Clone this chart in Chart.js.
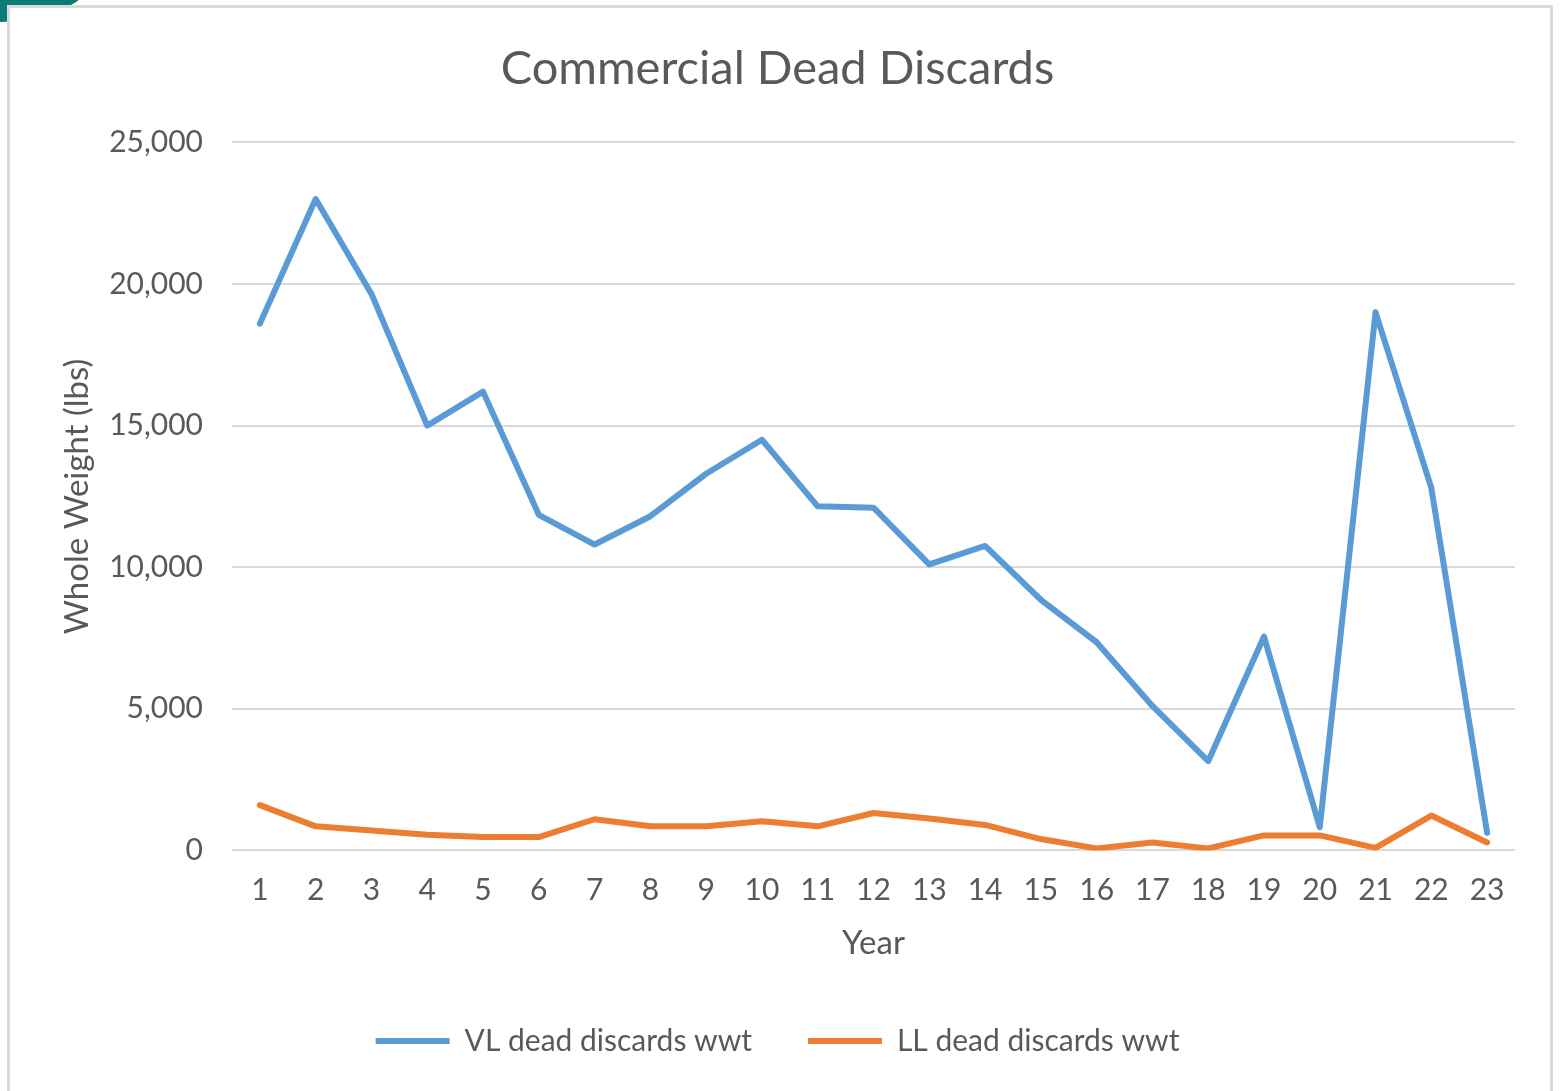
<!DOCTYPE html>
<html>
<head>
<meta charset="utf-8">
<script src="https://cdn.jsdelivr.net/npm/chart.js@4/dist/chart.umd.min.js"></script>
<style>
  html, body { margin: 0; padding: 0; background: #ffffff; overflow: hidden; }
  #corner { position: absolute; left: -100px; top: -62px; width: 190px; height: 84px;
            border-radius: 50%; background: #0b7c75; }
  #frame { position: absolute; left: 7px; top: 5px; width: 1546px; height: 1120px;
           border: 3px solid #d9d9d9; background: #ffffff; box-sizing: border-box; }
  #wrap { position: absolute; left: 0; top: 0; width: 1560px; height: 1091px; }
</style>
</head>
<body>
<div id="corner"></div>
<div id="frame"></div>
<div id="wrap"><canvas id="chart" width="1560" height="1091"></canvas></div>
<script>
// Year index along the x axis
const years = ['1','2','3','4','5','6','7','8','9','10','11','12','13','14','15','16','17','18','19','20','21','22','23'];

// Dead discards, whole weight (lbs)
const vlDeadDiscards = [18600, 23000, 19650, 15000, 16200, 11850, 10800, 11800, 13300, 14500, 12150, 12100,
                        10100, 10750, 8850, 7350, 5100, 3150, 7550, 820, 19000, 12800, 620];
const llDeadDiscards = [1600, 850, 700, 550, 470, 470, 1100, 850, 850, 1030, 850, 1320,
                        1130, 900, 400, 70, 280, 70, 530, 530, 90, 1230, 280];

const seriesNames = ['VL dead discards wwt', 'LL dead discards wwt'];
const seriesColors = ['#5B9BD5', '#ED7D31'];

const yMin = 0, yMax = 25000, yStep = 5000;

const FONT = 'Lato, "Open Sans", "DejaVu Sans", sans-serif';
const TEXT = '#595959';

new Chart(document.getElementById('chart'), {
  type: 'line',
  data: {
    labels: years,
    datasets: [
      { label: seriesNames[0], data: vlDeadDiscards },
      { label: seriesNames[1], data: llDeadDiscards }
    ].map((d, i) => Object.assign(d, {
      borderColor: seriesColors[i],
      backgroundColor: seriesColors[i],
      borderWidth: 6,
      borderCapStyle: 'round',
      borderJoinStyle: 'round',
      pointRadius: 0,
      pointHoverRadius: 0,
      tension: 0,
      fill: false
    }))
  },
  options: {
    responsive: false,
    animation: false,
    layout: { padding: { left: 40, right: 45, top: 22, bottom: 25 } },
    plugins: {
      title: {
        display: true,
        text: 'Commercial Dead Discards',
        color: TEXT,
        font: { family: FONT, size: 47, weight: 'normal' },
        padding: { top: 19, bottom: 45 }
      },
      legend: {
        position: 'bottom',
        labels: {
          color: TEXT,
          font: { family: FONT, size: 30 },
          usePointStyle: true,
          pointStyle: 'line',
          pointStyleWidth: 74,
          boxHeight: 30,
          padding: 56
        }
      },
      tooltip: { enabled: false }
    },
    scales: {
      x: {
        offset: true,
        grid: { display: false, drawTicks: false },
        border: { display: false },
        ticks: { color: TEXT, font: { family: FONT, size: 30 }, padding: 22, maxRotation: 0, autoSkip: false },
        title: {
          display: true, text: 'Year', color: TEXT,
          font: { family: FONT, size: 33 }, padding: { top: -7, bottom: 7 }
        }
      },
      y: {
        min: yMin, max: yMax,
        afterFit: s => { s.width = 192; },
        grid: { color: '#d9d9d9', lineWidth: 2, drawTicks: false },
        border: { display: false },
        ticks: {
          stepSize: yStep, color: TEXT, font: { family: FONT, size: 30 }, padding: 29,
          callback: v => v.toLocaleString('en-US')
        },
        title: {
          display: true, text: 'Whole Weight (lbs)', color: TEXT,
          font: { family: FONT, size: 33 }, padding: { top: 18, bottom: 10 }
        }
      }
    }
  }
});
</script>
</body>
</html>
